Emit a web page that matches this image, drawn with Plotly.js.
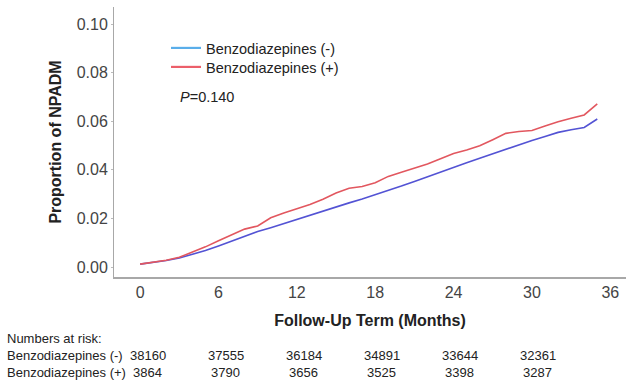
<!DOCTYPE html>
<html>
<head>
<meta charset="utf-8">
<script src="https://cdn.plot.ly/plotly-3.0.1.min.js"></script>
<style>
  html, body { margin: 0; padding: 0; background: #ffffff; }
  #chart { width: 626px; height: 385px; }
</style>
</head>
<body>
<div id="chart"></div>
<script>
// Cumulative proportion of NPADM by follow-up month
const months = [0, 1, 2, 3, 4, 5, 6, 7, 8, 9, 10, 11, 12, 13, 14, 15, 16, 17,
  18, 19, 20, 21, 22, 23, 24, 25, 26, 27, 28, 29, 30, 31, 32, 33, 34, 35];

const benzoNeg = [0.0012, 0.0019, 0.0027, 0.0037, 0.0051, 0.0068, 0.0087, 0.0107,
  0.0127, 0.0146, 0.0162, 0.0179, 0.0199, 0.0216, 0.0232, 0.0248, 0.0264, 0.0280,
  0.0297, 0.0315, 0.0333, 0.0352, 0.0372, 0.0392, 0.0411, 0.0429, 0.0448, 0.0467,
  0.0486, 0.0504, 0.0521, 0.0537, 0.0554, 0.0565, 0.0574, 0.0609];

const benzoPos = [0.0012, 0.0020, 0.0028, 0.0040, 0.0061, 0.0083, 0.0108, 0.0133,
  0.0156, 0.0169, 0.0203, 0.0222, 0.0239, 0.0257, 0.0279, 0.0305, 0.0324, 0.0331,
  0.0347, 0.0373, 0.0390, 0.0406, 0.0424, 0.0446, 0.0467, 0.0482, 0.0499, 0.0524,
  0.0550, 0.0558, 0.0562, 0.0580, 0.0598, 0.0612, 0.0626, 0.0671];

const seriesNames = ['Benzodiazepines (-)', 'Benzodiazepines (+)'];
const pValueText = '<i>P</i>=0.140';

// Numbers at risk table
const riskTitle = 'Numbers at risk:';
const riskNeg = [38160, 37555, 36184, 34891, 33644, 32361];
const riskPos = [3864, 3790, 3656, 3525, 3398, 3287];

const xTicks = [0, 6, 12, 18, 24, 30, 36];
const yTicks = [0.00, 0.02, 0.04, 0.06, 0.08, 0.10];

// plot-area geometry (pixels)
const M = { l: 114, r: 0, t: 7, b: 108 };
const W = 626 - M.l - M.r;
const H = 385 - M.t - M.b;
const px = x => (x - M.l) / W;
const py = y => 1 - (y - M.t) / H;

const lineNeg = '#5353d4';
const linePos = '#e2575f';
const keyNeg = '#5aaeea';
const keyPos = '#ec5f6a';

const traces = [
  { x: months, y: benzoNeg, type: 'scatter', mode: 'lines', showlegend: false,
    line: { color: lineNeg, width: 1.6 }, hoverinfo: 'x+y' },
  { x: months, y: benzoPos, type: 'scatter', mode: 'lines', showlegend: false,
    line: { color: linePos, width: 1.6 }, hoverinfo: 'x+y' },
  // legend keys, one per legend box
  { x: [null], y: [null], type: 'scatter', mode: 'lines', name: seriesNames[0],
    legend: 'legend', line: { color: keyNeg, width: 2.2 } },
  { x: [null], y: [null], type: 'scatter', mode: 'lines', name: seriesNames[1],
    legend: 'legend2', line: { color: keyPos, width: 2.2 } }
];

const tableFont = { family: 'Liberation Sans, Arial, sans-serif', size: 13, color: '#222' };
const annotations = [
  { text: pValueText, xref: 'paper', yref: 'paper', x: px(178), y: py(97),
    xanchor: 'left', yanchor: 'middle', showarrow: false,
    font: { family: 'Liberation Sans, Arial, sans-serif', size: 14.5, color: '#222' } },
  { text: riskTitle, xref: 'paper', yref: 'paper', x: px(5), y: py(338),
    xanchor: 'left', yanchor: 'middle', showarrow: false, font: tableFont },
  { text: seriesNames[0], xref: 'paper', yref: 'paper', x: px(5), y: py(355),
    xanchor: 'left', yanchor: 'middle', showarrow: false, font: tableFont },
  { text: seriesNames[1], xref: 'paper', yref: 'paper', x: px(5), y: py(372),
    xanchor: 'left', yanchor: 'middle', showarrow: false, font: tableFont }
];
riskNeg.forEach((n, i) => annotations.push({
  text: String(n), xref: 'paper', yref: 'paper', x: px(148 + 78 * i), y: py(355),
  xanchor: 'center', yanchor: 'middle', showarrow: false, font: tableFont }));
riskPos.forEach((n, i) => annotations.push({
  text: String(n), xref: 'paper', yref: 'paper', x: px(147 + 78 * i), y: py(372),
  xanchor: 'center', yanchor: 'middle', showarrow: false, font: tableFont }));

const tickFont = { family: 'Liberation Sans, Arial, sans-serif', size: 16, color: '#444' };
const titleFont = { family: 'Liberation Sans, Arial, sans-serif', size: 16, color: '#222', weight: 'bold' };
const legendFont = { family: 'Liberation Sans, Arial, sans-serif', size: 14.5, color: '#222' };
const legendBox = top => ({
  x: px(166), y: py(top), xanchor: 'left', yanchor: 'top',
  bgcolor: 'rgba(0,0,0,0)', borderwidth: 0, font: legendFont
});

const layout = {
  width: 626, height: 385,
  margin: M,
  paper_bgcolor: '#ffffff', plot_bgcolor: '#ffffff',
  showlegend: true,
  legend: legendBox(32),
  legend2: legendBox(51),
  xaxis: {
    range: [-2, 37.2], tickvals: xTicks, ticktext: xTicks.map(String),
    showgrid: false, zeroline: false, showline: true, linecolor: '#a8a8a8', linewidth: 1.5,
    ticks: '', tickfont: tickFont, ticklabelstandoff: 0,
    title: { text: 'Follow-Up Term (Months)', font: titleFont, standoff: 15 }
  },
  yaxis: {
    range: [-0.0041, 0.107], tickvals: yTicks, ticktext: yTicks.map(v => v.toFixed(2)),
    showgrid: false, zeroline: false, showline: true, linecolor: '#a8a8a8', linewidth: 1,
    ticks: 'outside', ticklen: 2, tickcolor: '#bbbbbb', tickfont: tickFont,
    title: { text: 'Proportion of NPADM', font: titleFont, standoff: 11 }
  },
  annotations: annotations
};

Plotly.newPlot('chart', traces, layout, { staticPlot: true, displayModeBar: false });
</script>
</body>
</html>
